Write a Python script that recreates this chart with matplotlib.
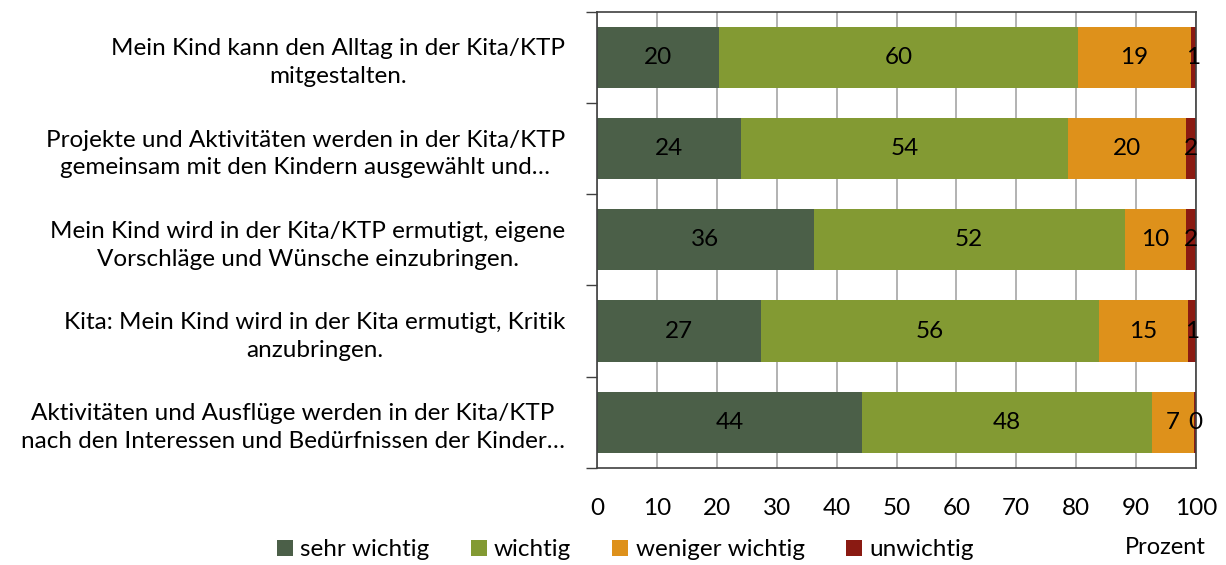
import matplotlib.pyplot as plt
import numpy as np

plt.rcParams['font.family'] = ['Lato', 'DejaVu Sans']

categories = [
    "Mein Kind kann den Alltag in der Kita/KTP\nmitgestalten.",
    "Projekte und Aktivitäten werden in der Kita/KTP\ngemeinsam mit den Kindern ausgewählt und…",
    "Mein Kind wird in der Kita/KTP ermutigt, eigene\nVorschläge und Wünsche einzubringen.",
    "Kita: Mein Kind wird in der Kita ermutigt, Kritik\nanzubringen.",
    "Aktivitäten und Ausflüge werden in der Kita/KTP\nnach den Interessen und Bedürfnissen der Kinder…",
]
series_names = ["sehr wichtig", "wichtig", "weniger wichtig", "unwichtig"]
sehr_wichtig = [20.4, 24.1, 36.2, 27.4, 44.3]
wichtig = [59.9, 54.5, 51.9, 56.4, 48.3]
weniger_wichtig = [18.9, 19.7, 10.2, 14.8, 7.1]
unwichtig = [0.8, 1.7, 1.7, 1.4, 0.3]
colors = ["#4b5f48", "#839a33", "#de911b", "#8a1a12"]

fs = 17.5

fig = plt.figure(figsize=(12.26, 5.65), dpi=100)
ax = fig.add_axes([0.487, 0.172, 0.4885, 0.807])

y = np.arange(len(categories))
left = np.zeros(len(categories))
for name, vals, col in zip(series_names, [sehr_wichtig, wichtig, weniger_wichtig, unwichtig], colors):
    bars = ax.barh(y, vals, left=left, height=0.67, color=col, label=name, zorder=2)
    ax.bar_label(bars, labels=[f"{v:.0f}" for v in vals], label_type='center',
                 fontsize=fs, color='black')
    left += np.array(vals)

ax.set_xlim(0, 100)
ax.set_ylim(len(categories) - 0.5, -0.5)
ax.set_xticks(np.arange(0, 101, 10))
ax.xaxis.grid(True, color='#a6a6a6', linewidth=1.2, zorder=0)
ax.set_axisbelow(True)
ax.tick_params(axis='x', length=0, labelsize=fs, pad=22)

ax.set_yticks(y)
ax.set_yticklabels(categories, fontsize=fs, multialignment='center', linespacing=1.4)
ax.tick_params(axis='y', which='major', length=0, pad=23)
ax.set_yticks(np.arange(-0.5, len(categories)), minor=True)
ax.tick_params(axis='y', which='minor', length=8, width=1, color='#404040')

for s in ax.spines.values():
    s.set_color('#404040')
    s.set_linewidth(1.2)

fig.text(1165 / 1226, 1 - 547 / 565, "Prozent", fontsize=fs - 0.5, ha='center', va='center')

ax.legend(loc='center', bbox_to_anchor=(0.51, 1 - 550 / 565), bbox_transform=fig.transFigure,
          ncol=4, frameon=False, fontsize=fs, handlelength=0.65, handleheight=0.65,
          handletextpad=0.3, columnspacing=1.7)

fig.savefig("out.png", dpi=100)
